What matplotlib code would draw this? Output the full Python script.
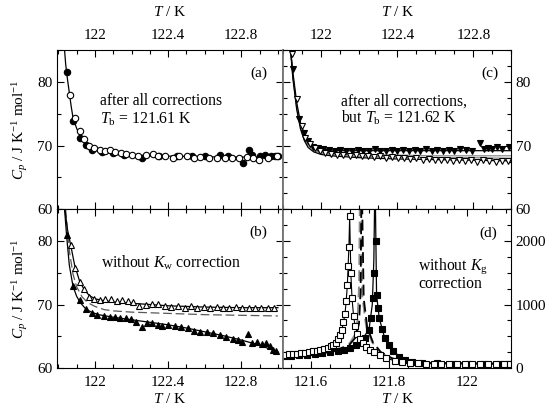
import matplotlib
matplotlib.use("Agg")
import matplotlib.pyplot as plt
from matplotlib.ticker import MultipleLocator

plt.rcParams["font.family"] = "Liberation Serif"
plt.rcParams["mathtext.fontset"] = "custom"
plt.rcParams["mathtext.rm"] = "Liberation Serif"
plt.rcParams["mathtext.it"] = "Liberation Serif:italic"

# ---- panel (a): after all corrections
a_open_T = [121.862, 121.889, 121.916, 121.942, 121.968, 121.995, 122.027, 122.055, 122.083,
            122.109, 122.145, 122.171, 122.203, 122.233, 122.28, 122.316, 122.347, 122.383,
            122.427, 122.462, 122.503, 122.542, 122.577, 122.621, 122.665, 122.709, 122.75,
            122.788, 122.833, 122.865, 122.898, 122.947, 122.997]
a_open_Cp = [78.0, 74.3, 72.3, 71.1, 69.9, 69.6, 69.3, 69.2, 69.3,
             69.0, 68.9, 68.7, 68.6, 68.4, 68.5, 68.7, 68.3, 68.4,
             68.1, 68.4, 68.3, 68.0, 68.2, 68.1, 68.0, 68.0, 68.1,
             68.0, 68.2, 68.0, 67.7, 68.0, 68.3]
a_fill_T = [121.845, 121.88, 121.916, 121.951, 121.986, 122.039, 122.1, 122.16, 122.26,
            122.35, 122.45, 122.533, 122.6, 122.683, 122.73, 122.808, 122.84, 122.861,
            122.9, 122.932, 122.96, 122.985, 123.0]
a_fill_Cp = [81.6, 73.85, 71.2, 70.1, 69.3, 69.0, 68.8, 68.6, 68.1,
             68.4, 68.3, 68.4, 68.3, 68.5, 68.4, 67.3, 69.3, 68.5,
             68.3, 68.5, 68.4, 68.3, 68.4]
a_fit_T = [121.834, 121.84, 121.85, 121.86, 121.87, 121.88, 121.9, 121.92, 121.95, 121.98,
           122.02, 122.08, 122.15, 122.3, 122.5, 122.7, 123.0]
a_fit_Cp = [85.0, 82.8, 80.4, 78.3, 76.2, 74.4, 72.7, 71.5, 70.3, 69.6,
            69.1, 68.8, 68.6, 68.4, 68.3, 68.2, 68.2]

# ---- panel (b): without K_w correction
b_open_T = [121.868, 121.889, 121.916, 121.942, 121.968, 121.995, 122.027, 122.056, 122.086,
            122.118, 122.15, 122.18, 122.21, 122.242, 122.277, 122.312, 122.347, 122.383,
            122.418, 122.453, 122.49, 122.525, 122.56, 122.595, 122.63, 122.665, 122.7,
            122.735, 122.77, 122.805, 122.84, 122.875, 122.91, 122.945, 122.98]
b_open_Cp = [79.4, 75.7, 73.6, 72.4, 71.2, 70.8, 70.7, 70.8, 70.8,
             70.5, 70.7, 70.6, 70.4, 69.7, 69.95, 70.1, 70.1, 69.8,
             69.6, 69.8, 69.5, 69.7, 69.5, 69.6, 69.4, 69.6, 69.5,
             69.4, 69.6, 69.4, 69.5, 69.4, 69.5, 69.4, 69.4]
b_fill_T = [121.845, 121.88, 121.916, 121.951, 121.986, 122.012, 122.048, 122.083, 122.109,
            122.136, 122.171, 122.198, 122.224, 122.259, 122.286, 122.312, 122.347, 122.365,
            122.4, 122.436, 122.471, 122.506, 122.542, 122.577, 122.612, 122.647, 122.683,
            122.718, 122.753, 122.78, 122.806, 122.838, 122.859, 122.886, 122.912, 122.933,
            122.956, 122.974, 122.991]
b_fill_Cp = [80.95, 72.9, 70.7, 69.25, 68.7, 68.35, 68.2, 68.1, 68.0,
             67.8, 67.8, 67.7, 67.3, 66.5, 67.1, 67.1, 66.8, 66.6,
             66.8, 66.6, 66.5, 66.3, 65.9, 65.7, 65.7, 65.5, 65.2,
             64.9, 64.5, 64.4, 64.1, 65.4, 64.0, 64.15, 63.8, 63.9,
             63.4, 62.8, 62.6]
b_fit_open_T = [121.836, 121.85, 121.868, 121.889, 121.916, 121.942, 121.97, 122.0, 122.05,
                122.1, 122.2, 122.3, 122.4, 122.6, 122.8, 123.0]
b_fit_open_Cp = [85.0, 81.8, 79.3, 76.2, 73.7, 72.3, 71.4, 70.9, 70.6,
                 70.4, 70.2, 70.0, 69.8, 69.6, 69.5, 69.5]
b_fit_fill_T = [121.834, 121.845, 121.86, 121.88, 121.9, 121.92, 121.95, 121.98, 122.02,
                122.1, 122.2, 122.3, 122.4, 122.5, 122.6, 122.7, 122.8, 122.9, 123.0]
b_fit_fill_Cp = [85.0, 80.9, 76.2, 72.9, 71.3, 70.3, 69.3, 68.8, 68.4,
                 68.0, 67.6, 67.2, 66.8, 66.3, 65.7, 65.1, 64.4, 63.6, 62.5]
b_dash_T = [121.84, 121.85, 121.86, 121.88, 121.9, 121.93, 121.96, 122.0, 122.05,
            122.1, 122.2, 122.4, 122.6, 122.8, 123.0]
b_dash_Cp = [85.0, 81.5, 78.5, 74.8, 72.8, 71.2, 70.3, 69.7, 69.2,
             69.0, 68.8, 68.6, 68.4, 68.3, 68.2]

# ---- panel (c): after all corrections, but Tb = 121.62 K
c_open_T = [121.844, 121.871, 121.897, 121.914, 121.94, 121.967, 121.993, 122.02, 122.052,
            122.084, 122.116, 122.148, 122.18, 122.212, 122.244, 122.276, 122.308, 122.34,
            122.372, 122.404, 122.436, 122.468, 122.5, 122.532, 122.564, 122.596, 122.628,
            122.66, 122.692, 122.724, 122.756, 122.788, 122.82, 122.852, 122.884, 122.916,
            122.948, 122.98]
c_open_Cp = [84.4, 77.3, 73.1, 71.2, 70.2, 69.6, 69.15, 68.9, 68.7,
             68.6, 68.5, 68.4, 68.5, 68.3, 68.4, 68.2, 68.3, 68.1,
             68.2, 68.0, 68.1, 67.9, 68.0, 67.8, 67.9, 67.8, 67.7,
             67.8, 67.6, 67.8, 67.6, 67.7, 67.5, 67.7, 67.6, 67.5,
             67.6, 67.6]
c_fill_T = [121.85, 121.884, 121.91, 121.932, 121.958, 121.984, 122.01, 122.04, 122.07,
            122.1, 122.13, 122.16, 122.19, 122.22, 122.25, 122.28, 122.31, 122.34,
            122.37, 122.4, 122.43, 122.46, 122.49, 122.52, 122.55, 122.58, 122.61,
            122.64, 122.67, 122.7, 122.73, 122.76, 122.79, 122.835, 122.855, 122.879,
            122.9, 122.923, 122.95, 122.985]
c_fill_Cp = [82.0, 74.1, 72.0, 70.7, 69.8, 69.6, 69.4, 69.3, 69.2,
             69.3, 69.1, 69.2, 69.3, 69.1, 69.2, 69.4, 69.2, 69.1,
             69.3, 69.2, 69.3, 69.1, 69.3, 69.2, 69.4, 69.2, 69.3,
             69.1, 69.3, 69.2, 69.4, 69.3, 69.2, 70.4, 69.4, 69.6,
             69.4, 69.8, 69.5, 69.8]
c_fit_T = [121.838, 121.85, 121.87, 121.89, 121.91, 121.93, 121.96, 122.0, 122.05,
           122.1, 122.2, 122.4, 122.6, 122.8, 123.0]
c_fit_fill_Cp = [85.0, 81.5, 76.8, 73.6, 71.8, 70.7, 69.9, 69.5, 69.3,
                 69.2, 69.2, 69.2, 69.2, 69.2, 69.2]
c_fit_gray1_Cp = [85.0, 81.0, 76.3, 73.1, 71.3, 70.2, 69.4, 69.0, 68.8,
                  68.7, 68.6, 68.5, 68.4, 68.4, 68.4]
c_fit_gray2_Cp = [85.0, 80.8, 76.0, 72.9, 71.1, 70.0, 69.2, 68.8, 68.6,
                  68.5, 68.3, 68.2, 68.1, 68.1, 68.0]
c_fit_open_Cp = [85.0, 80.5, 75.7, 72.6, 70.8, 69.7, 69.0, 68.6, 68.4,
                 68.3, 68.1, 67.9, 67.8, 67.7, 67.6]

# ---- panel (d): without K_g correction
d_open_T = [121.535, 121.545, 121.555, 121.565, 121.575, 121.585, 121.595, 121.605, 121.615,
            121.625, 121.635, 121.645, 121.652, 121.658, 121.664, 121.67, 121.675, 121.68,
            121.684, 121.688, 121.691, 121.694, 121.696, 121.698, 121.7, 121.703, 121.706,
            121.71, 121.714, 121.72, 121.726, 121.734, 121.743, 121.752, 121.762, 121.777,
            121.794, 121.815, 121.835, 121.855, 121.875, 121.895, 121.915, 121.935, 121.955,
            121.975, 121.995, 122.015, 122.035, 122.055, 122.075, 122.095, 122.112]
d_open_Cp = [210, 215, 222, 228, 235, 242, 250, 260, 272,
             285, 300, 320, 340, 365, 400, 450, 520, 600,
             720, 850, 1050, 1300, 1600, 1900, 2400, 1500, 1100,
             820, 660, 540, 450, 390, 335, 285, 255, 205,
             155, 115, 90, 78, 72, 70, 68, 68, 67,
             67, 67, 66, 66, 66, 66, 66, 66]
d_fill_T = [121.535, 121.55, 121.57, 121.59, 121.61, 121.63, 121.65, 121.67, 121.685,
            121.7, 121.715, 121.728, 121.74, 121.749, 121.755, 121.759, 121.762, 121.767,
            121.769, 121.772, 121.776, 121.782, 121.79, 121.8, 121.812, 121.826, 121.842,
            121.86, 121.885, 121.925, 121.965, 122.005, 122.045, 122.085, 122.105]
d_fill_Cp = [185, 190, 198, 207, 218, 230, 245, 265, 290,
             320, 360, 410, 480, 600, 780, 1100, 1500, 2000,
             1150, 940, 780, 610, 470, 365, 260, 180, 125,
             92, 78, 72, 70, 69, 68, 68, 68]
d_fill_line_T = [121.535, 121.6, 121.65, 121.7, 121.73, 121.75, 121.758, 121.762, 121.764,
                 121.766, 121.769, 121.776, 121.79, 121.812, 121.842, 121.885, 121.95, 122.112]
d_fill_line_Cp = [185, 212, 245, 320, 420, 620, 1000, 1700, 2600,
                  2600, 1150, 780, 470, 260, 125, 78, 70, 68]
d_dash_T = [121.535, 121.6, 121.65, 121.68, 121.7, 121.715, 121.724, 121.728, 121.73,
            121.732, 121.736, 121.745, 121.76, 121.78, 121.81, 121.85, 121.9, 122.112]
d_dash_Cp = [190, 225, 265, 310, 370, 480, 700, 1200, 2600,
             2600, 1100, 640, 400, 250, 150, 100, 80, 68]
d_gdash_T = [121.535, 121.6, 121.65, 121.68, 121.7, 121.712, 121.72, 121.724, 121.726,
             121.728, 121.732, 121.742, 121.757, 121.777, 121.807, 121.85, 121.9, 122.112]
d_gdash_Cp = [195, 230, 272, 320, 390, 510, 750, 1300, 2600,
              2600, 1150, 660, 410, 255, 152, 100, 80, 68]

OPEN = dict(mfc="white", mec="black", mew=0.8, ls="none")
FILL = dict(mfc="black", mec="black", mew=0.8, ls="none")

fig = plt.figure(figsize=(5.46, 4.12), dpi=100)
L, M, R = 0.1035, 0.519, 0.9368
B, H, T = 0.1068, 0.492, 0.8786
ax_a = fig.add_axes([L, H, M - L, T - H])
ax_c = fig.add_axes([M, H, R - M, T - H])
ax_b = fig.add_axes([L, B, M - L, H - B])
ax_d = fig.add_axes([M, B, R - M, H - B])

for ax in (ax_a, ax_b, ax_c, ax_d):
    ax.tick_params(which="both", direction="in", top=True, right=True,
                   labelsize=11, width=0.8, pad=3)
    ax.tick_params(axis="x", which="both", pad=6)
    ax.tick_params(which="major", length=5)
    ax.tick_params(which="minor", length=3)
    for s in ax.spines.values():
        s.set_linewidth(0.8)

for ax in (ax_a, ax_b):
    ax.set_xlim(121.79, 123.03)
    ax.set_ylim(60, 85)
    ax.xaxis.set_major_locator(MultipleLocator(0.4))
    ax.xaxis.set_minor_locator(MultipleLocator(0.1))
    ax.yaxis.set_major_locator(MultipleLocator(10))
    ax.yaxis.set_minor_locator(MultipleLocator(5))
    ax.set_ylabel(r"$C_p$ / J K$^{-1}$ mol$^{-1}$", fontsize=11, labelpad=5)
    ax.spines["right"].set_color("0.45")
    ax.spines["right"].set_linewidth(1.3)

ax_c.set_xlim(121.8, 123.0)
ax_c.set_ylim(60, 85)
ax_c.xaxis.set_major_locator(MultipleLocator(0.4))
ax_c.xaxis.set_minor_locator(MultipleLocator(0.1))
ax_c.yaxis.set_major_locator(MultipleLocator(10))
ax_c.yaxis.set_minor_locator(MultipleLocator(2.5))

ax_d.set_xlim(121.53, 122.115)
ax_d.set_ylim(0, 2500)
ax_d.xaxis.set_major_locator(MultipleLocator(0.2))
ax_d.xaxis.set_minor_locator(MultipleLocator(0.05))
ax_d.yaxis.set_major_locator(MultipleLocator(1000))
ax_d.yaxis.set_minor_locator(MultipleLocator(250))

for ax in (ax_c, ax_d):
    ax.spines["left"].set_color("0.45")
    ax.spines["left"].set_linewidth(1.3)
    ax.tick_params(labelleft=False, labelright=True)

fmt = plt.FuncFormatter(lambda v, p: f"{v:g}")
for ax in (ax_a, ax_c):
    ax.tick_params(labelbottom=False, labeltop=True)
    ax.xaxis.set_label_position("top")
    ax.set_xlabel(r"$T$ / K", fontsize=11, labelpad=9)
for ax in (ax_b, ax_d):
    ax.set_xlabel(r"$T$ / K", fontsize=11, labelpad=2)
for ax in (ax_a, ax_b, ax_c, ax_d):
    ax.xaxis.set_major_formatter(fmt)

# (a)
ax_a.plot(a_fit_T, a_fit_Cp, color="black", lw=0.9)
ax_a.plot(a_fill_T, a_fill_Cp, marker="o", ms=4.6, **FILL)
ax_a.plot(a_open_T, a_open_Cp, marker="o", ms=4.6, **OPEN)
ax_a.text(0.89, 0.854, "(a)", transform=ax_a.transAxes, ha="center", va="center", fontsize=11)
ax_a.text(0.192, 0.682, "after all corrections", transform=ax_a.transAxes,
          ha="left", va="center", fontsize=11.3)
ax_a.text(0.192, 0.567, r"$T_{\rm b}$ = 121.61 K", transform=ax_a.transAxes,
          ha="left", va="center", fontsize=11.3)

# (b)
ax_b.plot(b_dash_T, b_dash_Cp, color="0.35", lw=0.9, ls=(0, (7, 3)))
ax_b.plot(b_fit_open_T, b_fit_open_Cp, color="black", lw=0.9)
ax_b.plot(b_fit_fill_T, b_fit_fill_Cp, color="black", lw=0.9)
ax_b.plot(b_fill_T, b_fill_Cp, marker="^", ms=4.6, **FILL)
ax_b.plot(b_open_T, b_open_Cp, marker="^", ms=4.8, **OPEN)
ax_b.text(0.89, 0.853, "(b)", transform=ax_b.transAxes, ha="center", va="center", fontsize=11)
ax_b.text(0.195, 0.66, r"without $K_{\rm w}$ correction", transform=ax_b.transAxes,
          ha="left", va="center", fontsize=11.3)

# (c)
ax_c.plot(c_fit_T, c_fit_gray1_Cp, color="0.55", lw=0.9)
ax_c.plot(c_fit_T, c_fit_gray2_Cp, color="0.55", lw=0.9)
ax_c.plot(c_fit_T, c_fit_fill_Cp, color="black", lw=0.9)
ax_c.plot(c_fit_T, c_fit_open_Cp, color="black", lw=0.9)
ax_c.plot(c_fill_T, c_fill_Cp, marker="v", ms=4.6, **FILL)
ax_c.plot(c_open_T, c_open_Cp, marker="v", ms=4.8, **OPEN)
ax_c.text(0.906, 0.854, "(c)", transform=ax_c.transAxes, ha="center", va="center", fontsize=11)
ax_c.text(0.2515, 0.675, "after all corrections,", transform=ax_c.transAxes,
          ha="left", va="center", fontsize=11.3)
ax_c.text(0.2515, 0.575, r"but $T_{\rm b}$ = 121.62 K", transform=ax_c.transAxes,
          ha="left", va="center", fontsize=11.3)

# (d)
ax_d.plot(d_gdash_T, d_gdash_Cp, color="0.55", lw=1.3, ls=(0, (6, 3)))
ax_d.plot(d_dash_T, d_dash_Cp, color="black", lw=1.3, ls=(0, (6, 3)))
ax_d.plot(d_fill_line_T, d_fill_line_Cp, color="black", lw=0.9)
ax_d.plot(d_open_T, d_open_Cp, color="black", lw=0.8)
ax_d.plot(d_fill_T, d_fill_Cp, marker="s", ms=3.8, **FILL)
ax_d.plot(d_open_T, d_open_Cp, marker="s", ms=3.8, **OPEN)
ax_d.text(0.898, 0.849, "(d)", transform=ax_d.transAxes, ha="center", va="center", fontsize=11)
ax_d.text(0.59, 0.64, r"without $K_{\rm g}$", transform=ax_d.transAxes,
          ha="left", va="center", fontsize=11.3)
ax_d.text(0.59, 0.53, "correction", transform=ax_d.transAxes,
          ha="left", va="center", fontsize=11.3)

fig.savefig("out.png", dpi=100)
